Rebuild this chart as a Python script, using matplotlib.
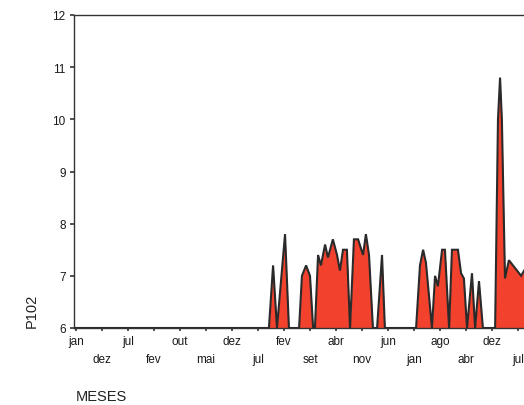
import matplotlib
matplotlib.use("Agg")
import matplotlib.pyplot as plt

plt.rcParams['font.family'] = ['Liberation Sans', 'DejaVu Sans']

# x positions in label-slot units, values of P102 (baseline 6)
x_pos = [0, 7.42, 7.58, 7.73, 8.04, 8.19, 8.58, 8.69, 8.85, 9.0, 9.12,
         9.19, 9.31, 9.42, 9.58, 9.69, 9.88, 10.04, 10.15, 10.27, 10.42, 10.54,
         10.69, 10.85, 11.04, 11.15, 11.27, 11.42, 11.58, 11.77, 11.88,
         13.08, 13.23, 13.35, 13.46, 13.69, 13.81, 13.92, 14.08, 14.19, 14.35,
         14.46, 14.69, 14.81, 14.92, 15.04, 15.23, 15.35, 15.5, 15.65,
         16.12, 16.23, 16.31, 16.38, 16.5, 16.65, 17.12, 17.35]
p102 = [6, 6, 7.2, 6, 7.8, 6, 6, 7.0, 7.2, 7.0, 6,
        6, 7.4, 7.2, 7.6, 7.35, 7.7, 7.4, 7.1, 7.5, 7.5, 6,
        7.7, 7.7, 7.4, 7.8, 7.4, 6, 6, 7.4, 6,
        6, 7.2, 7.5, 7.25, 6, 7.0, 6.8, 7.5, 7.5, 6,
        7.5, 7.5, 7.05, 6.95, 6, 7.05, 6, 6.9, 6,
        6, 10.0, 10.8, 10.0, 6.95, 7.3, 7.0, 7.2]

top_labels = ['jan', 'jul', 'out', 'dez', 'fev', 'abr', 'jun', 'ago', 'dez']
bottom_labels = ['dez', 'fev', 'mai', 'jul', 'set', 'nov', 'jan', 'abr', 'jul']
y_ticks = [6, 7, 8, 9, 10, 11, 12]

W, H = 524, 406
fig = plt.figure(figsize=(W / 100, H / 100), dpi=100)
L, R, T, B = 74, 580, 16, 329
ax = fig.add_axes([L / W, (H - B) / H, (R - L) / W, (B - T) / H])

ax.fill_between(x_pos, 6, p102, color='#f2412c', lw=0)
ax.plot(x_pos, p102, color='#2a2a2a', lw=1.5, solid_joinstyle='miter')

ax.set_xlim((L - 76) / 26, (R - 76) / 26)
ax.set_ylim(6, 12)
ax.set_yticks(y_ticks)
ax.set_yticklabels([str(v) for v in y_ticks])

ax.set_xticks([2 * i for i in range(len(top_labels))])
ax.set_xticklabels(top_labels)
ax.set_xticks([2 * i + 1 for i in range(len(bottom_labels))], minor=True)
ax.set_xticklabels(bottom_labels, minor=True)

ax.tick_params(axis='x', which='major', length=2, width=1.2, pad=3,
               labelsize=8.5, color='#333333', direction='out', labelcolor='#1a1a1a')
ax.tick_params(axis='x', which='minor', length=2, width=1.2, pad=16,
               labelsize=8.5, color='#333333', direction='out', labelcolor='#1a1a1a')
ax.tick_params(axis='y', length=3, width=1.2, pad=3, labelsize=8.5,
               color='#333333', direction='out', labelcolor='#1a1a1a')

for s in ax.spines.values():
    s.set_color('#333333')
    s.set_linewidth(1.0)

fig.text(32 / W, 1 - 311 / H, 'P102', rotation=90, ha='center', va='center',
         fontsize=10.5, color='#222222')
fig.text(76 / W, 1 - 397 / H, 'MESES', ha='left', va='center',
         fontsize=10.5, color='#222222')

fig.savefig('out.png', dpi=100)
